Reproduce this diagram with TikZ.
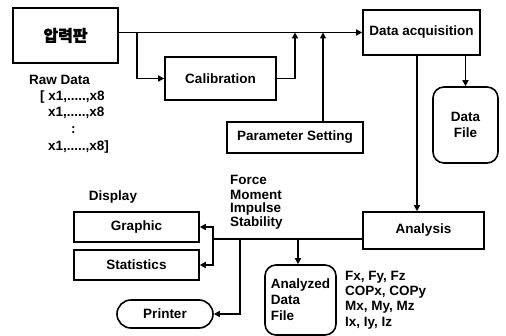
\documentclass[tikz,border=0pt]{standalone}
\usepackage{fontspec}
\setmainfont{Liberation Sans}
\newfontfamily\kr{Noto Sans CJK KR}[FakeBold=1.5]
\usetikzlibrary{arrows.meta}
\begin{document}
\begin{tikzpicture}[x=1pt,y=-1pt,
  font=\fontsize{13.5}{16}\selectfont\bfseries,
  box/.style={draw, line width=1.6pt, inner sep=0pt, align=center},
  rbox/.style={box, rounded corners=11pt},
  arr/.style={line width=1.6pt, -{Triangle[length=6pt,width=6pt]}},
  ln/.style={line width=1.6pt},
  lbl/.style={anchor=west, inner sep=0pt}]
\useasboundingbox (0,0) rectangle (506,336);

% boxes
\node[box, minimum width=105, minimum height=55] (plate) at (65.5,35.5) {\kr\fontsize{16}{18}\selectfont 압력판};
\node[box, minimum width=111, minimum height=43] (calib) at (220.5,78.5) {Calibration};
\node[box, minimum width=136, minimum height=31] (param) at (295,137.5) {Parameter Setting};
\node[box, minimum width=117, minimum height=45] (dacq) at (421.5,32.5) {Data acquisition};
\node[rbox, minimum width=65, minimum height=76] (datafile) at (465.5,125) {Data\\File};
\node[box, minimum width=121, minimum height=37] (analysis) at (423.5,230.5) {Analysis};
\node[box, minimum width=125, minimum height=30] (graphic) at (136.5,227) {Graphic};
\node[box, minimum width=125, minimum height=30] (stats) at (136.5,265) {Statistics};
\node[box, rounded corners=14pt, minimum width=96, minimum height=28] (printer) at (165,314) {Printer};
\node[rbox, minimum width=71, minimum height=70, align=left] (analyzed) at (300.5,300) {Analyzed\\Data\\File};

% texts
\node[lbl] (raw) at (29,80) {Raw Data};
\node[lbl] (r1) at (40,97) {[ x1,.....,x8};
\node[lbl] (r2) at (48,113) {x1,.....,x8};
\node[lbl] (r3) at (71,130) {:};
\node[lbl] (r4) at (48,147) {x1,.....,x8]};
\node (disp) at (113,197) {Display};
\node[lbl] (t1) at (230,180) {Force};
\node[lbl] (t2) at (230,195) {Moment};
\node[lbl] (t3) at (230,209) {Impulse};
\node[lbl] (t4) at (230,223) {Stability};
\node[lbl] (f1) at (345,277) {Fx, Fy, Fz};
\node[lbl] (f2) at (345,292) {COPx, COPy};
\node[lbl] (f3) at (345,307) {Mx, My, Mz};
\node[lbl] (f4) at (345,323) {Ix, Iy, Iz};

% junctions
\coordinate (b1) at (137,32.5);
\coordinate (b2) at (295,32.5);
\coordinate (b3) at (323,32.5);
\coordinate (d1) at (417,55);
\coordinate (j1) at (213,239);
\coordinate (j2) at (240,239);
\coordinate (j3) at (298,239);

% connectors
\draw[arr] (plate.east |- dacq.west) -- (dacq.west);
\draw[arr] (b1) |- (calib.west);
\draw[arr] (calib.east) -| (b2);
\draw[arr] (param.north -| b3) -- (b3);
\draw[arr] (d1) -- (d1 |- analysis.north);
\draw[arr] (dacq.south -| datafile.north) -- (datafile.north);
\draw[ln] (analysis.west |- j1) -- (j1);
\draw[arr] (j1) |- (graphic.east);
\draw[arr] (j1) |- (stats.east);
\draw[arr] (j2) |- (printer.east);
\draw[arr] (j3) -- (j3 |- analyzed.north);
\end{tikzpicture}
\end{document}
